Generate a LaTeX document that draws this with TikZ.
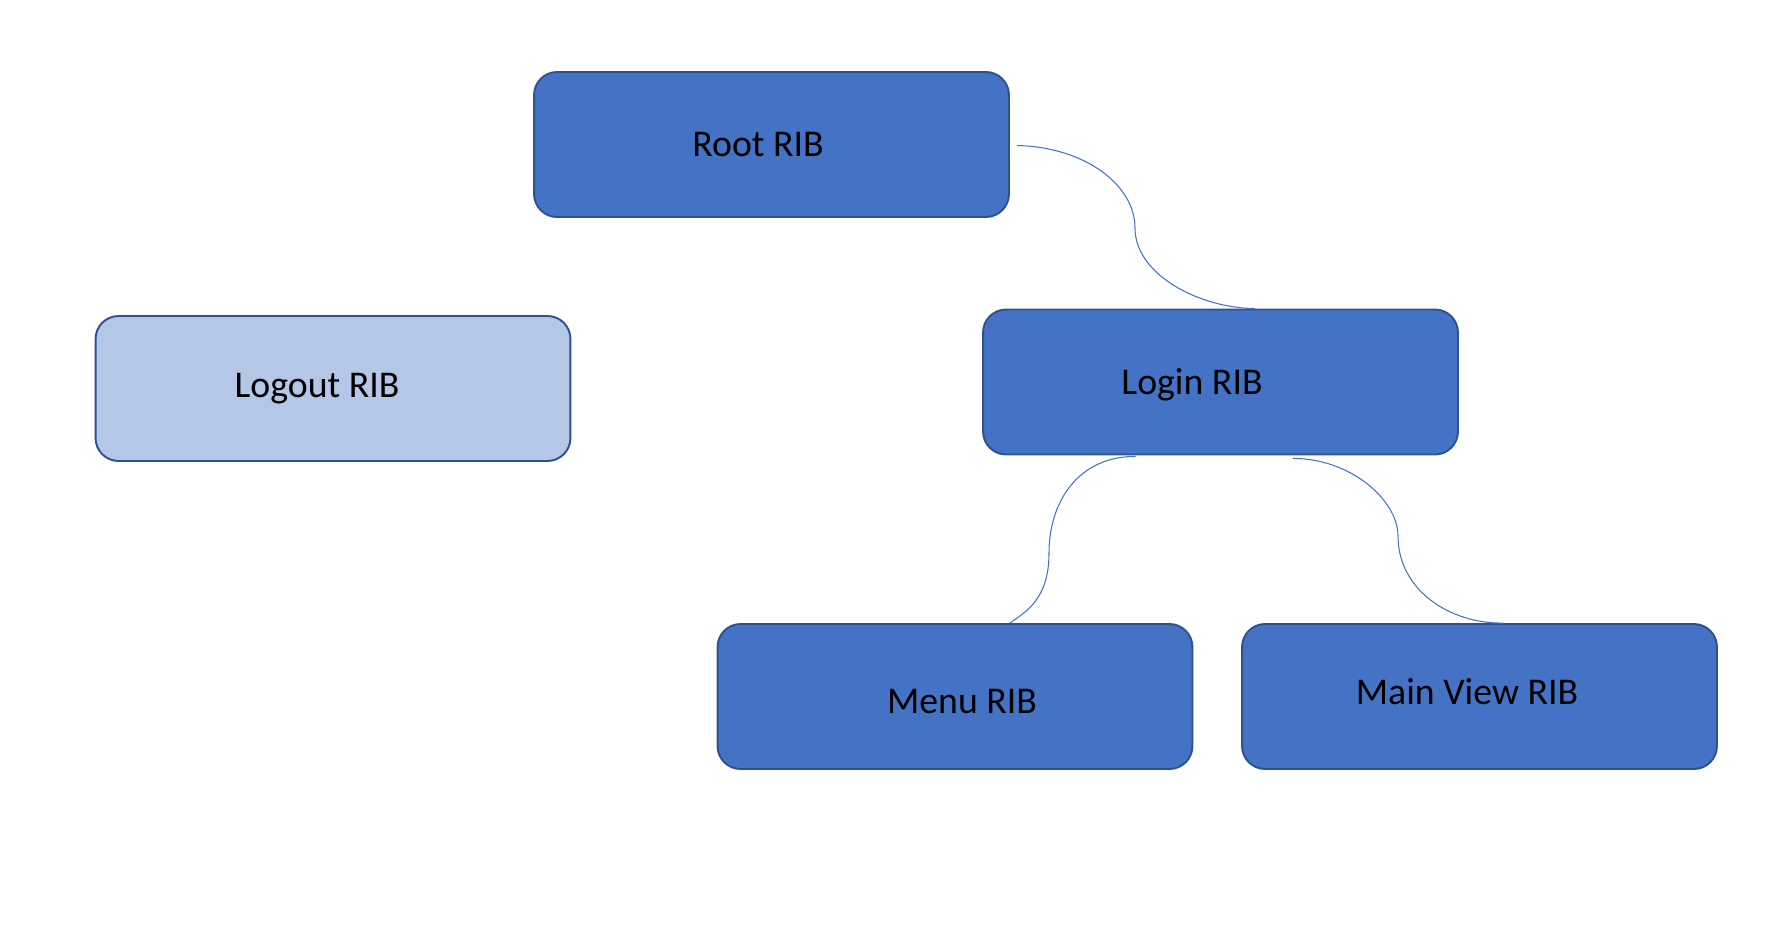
\documentclass[tikz,border=0pt]{standalone}
\usepackage{fontspec}
\setmainfont{Carlito}
\usepackage{tikz}
\usetikzlibrary{calc}
\definecolor{ribblue}{HTML}{4472C4}
\definecolor{ribedge}{HTML}{2F528F}
\definecolor{ribpale}{HTML}{B4C7E7}

\tikzset{
  rib/.style={draw=ribedge,line width=1.1pt,fill=ribblue,rounded corners=0.46cm,
    minimum width=9.5cm,minimum height=2.9cm},
  ribpaled/.style={rib,fill=ribpale},
  ribtext/.style={font=\fontsize{21.5}{25}\selectfont,inner sep=0pt},
  link/.style={ribblue,line width=0.6pt}
}

\begin{document}
\begin{tikzpicture}[x=0.02cm,y=-0.02cm]
  \useasboundingbox (0,0) rectangle (1788,950);
  \node[rib,label={[ribtext,xshift=-0.27cm]center:Root RIB}] (root) at (771.5,144.5) {};
  \node[ribpaled,label={[ribtext,xshift=-0.32cm]center:Logout RIB}] (logout) at (333,388.5) {};
  \node[rib,label={[ribtext,xshift=-0.57cm,yshift=-0.05cm]center:Login RIB}] (login) at (1220.5,382) {};
  \node[rib,label={[ribtext,xshift=0.14cm,yshift=-0.11cm]center:Menu RIB}] (menu) at (955,696.5) {};
  \node[rib,label={[ribtext,xshift=-0.25cm,yshift=0.09cm]center:Main View RIB}] (mainview) at (1479.5,696.5) {};

  \draw[link] ($(root.east)+(7,1)$) .. controls (1085,147) and (1135,185) .. (1135,228)
    .. controls (1135,275) and (1200,308) .. ($(login.north)+(34,0)$);
  \draw[link] ($(login.south)+(-85,1)$) .. controls (1080,456) and (1049,500) .. (1049,553)
    .. controls (1049,600) and (1025,612) .. ($(menu.north)+(55,0)$);
  \draw[link] ($(login.south)+(72,3)$) .. controls (1350,458) and (1398,500) .. (1398,536)
    .. controls (1398,590) and (1450,624) .. ($(mainview.north)+(24,0)$);
\end{tikzpicture}
\end{document}
